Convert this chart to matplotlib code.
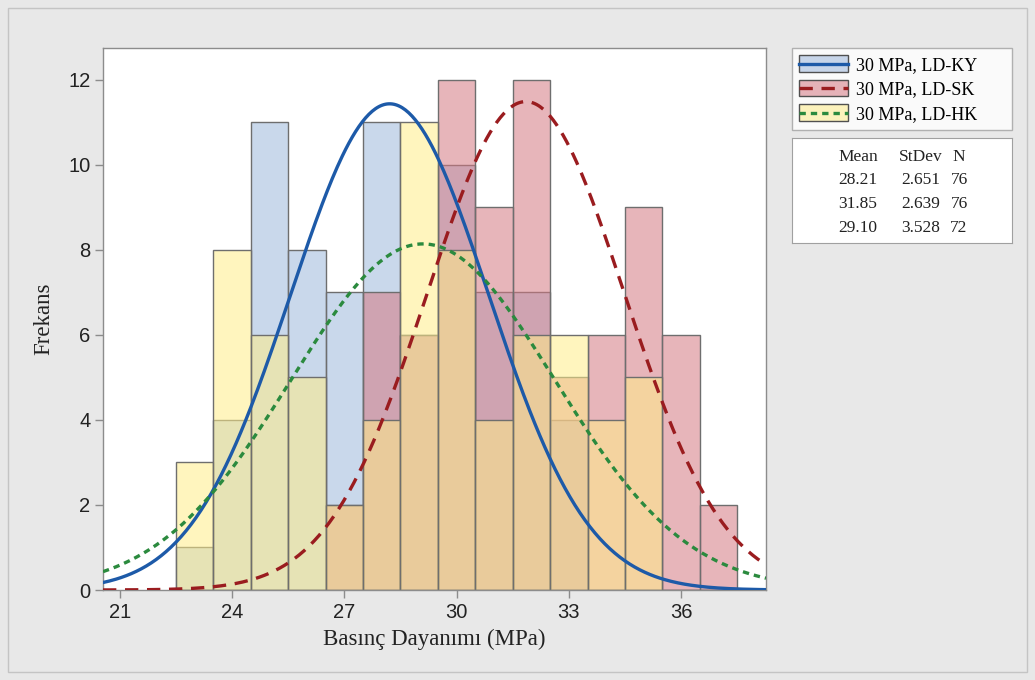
import numpy as np
import matplotlib
matplotlib.use("Agg")
import matplotlib.pyplot as plt
from matplotlib.patches import Patch, Rectangle
from matplotlib.lines import Line2D
from matplotlib.colors import to_rgba
from matplotlib.legend_handler import HandlerBase


# bin centres (MPa), bin width 1
bins = [23, 24, 25, 26, 27, 28, 29, 30, 31, 32, 33, 34, 35, 36, 37]

# frequencies per bin
freq_ky = [1, 4, 11, 8, 7, 11, 6, 10, 7, 7, 4, 0, 0, 0, 0]
freq_sk = [0, 0, 0, 0, 2, 7, 6, 12, 9, 12, 5, 6, 9, 6, 2]
freq_hk = [3, 8, 6, 5, 2, 4, 11, 8, 4, 6, 6, 4, 5, 0, 0]

series = ["30 MPa, LD-KY", "30 MPa, LD-SK", "30 MPa, LD-HK"]
means = [28.21, 31.85, 29.10]
stdevs = [2.651, 2.639, 3.528]
counts = [76, 76, 72]

fills = ["#9db8dc", "#d57882", "#ffed89"]
lines = ["#1d5aa8", "#9a1c1f", "#2b8a3e"]
styles = ["-", (0, (4.0, 2.6)), (0, (1.9, 1.5))]
FILL_ALPHA = 0.55
BG = "#e8e8e8"


class BoxLineHandler(HandlerBase):
    # filled box with the fit line drawn across its middle
    def create_artists(self, legend, orig_handle, xdescent, ydescent,
                       width, height, fontsize, trans):
        face, lc, ls = orig_handle
        r = Rectangle((-xdescent, -ydescent), width, height, facecolor=face,
                      edgecolor="#505050", lw=1, transform=trans)
        ln = Line2D([-xdescent, -xdescent + width],
                    [-ydescent + height / 2] * 2, color=lc, linestyle=ls,
                    linewidth=2.4, transform=trans)
        return [r, ln]


fig = plt.figure(figsize=(10.35, 6.8), dpi=100, facecolor=BG)
fig.patches.append(Rectangle((8 / 1035, 8 / 680), 1019 / 1035, 664 / 680,
                             transform=fig.transFigure, fill=False,
                             edgecolor="#c4c4c4", lw=1))

ax = fig.add_axes([103 / 1035, 90 / 680, 663 / 1035, 542 / 680])
ax.set_facecolor("white")

# overlapping histograms
for freq, col in zip([freq_ky, freq_sk, freq_hk], fills):
    ax.bar(bins, freq, width=1.0, facecolor=to_rgba(col, FILL_ALPHA),
           edgecolor="#6e6e6e", linewidth=1.0, zorder=2)

ax.set_xlim(20.55, 38.27)
ax.set_ylim(0, 12.75)

# fitted normal curves scaled to counts
xs = np.linspace(20.55, 38.27, 400)
for m, s, n, col, ls in zip(means, stdevs, counts, lines, styles):
    ys = n * 1.0 * np.exp(-0.5 * ((xs - m) / s) ** 2) / (s * np.sqrt(2 * np.pi))
    ax.plot(xs, ys, color=col, linestyle=ls, linewidth=2.4, zorder=3)

ax.set_xticks([21, 24, 27, 30, 33, 36])
ax.set_yticks([0, 2, 4, 6, 8, 10, 12])
ax.tick_params(direction="out", length=6, width=1, color="#8c8c8c",
               labelsize=14.5, labelcolor="#222222", pad=3)
for lab in ax.get_xticklabels() + ax.get_yticklabels():
    lab.set_family("Liberation Sans")
for sp in ax.spines.values():
    sp.set_color("#8c8c8c")
    sp.set_linewidth(1)

ax.set_xlabel("Basınç Dayanımı (MPa)", family="Liberation Serif",
              fontsize=16.5, color="#222222", labelpad=5)
ax.set_ylabel("Frekans", family="Liberation Serif", fontsize=16.5,
              color="#222222", labelpad=10)

# legend
handles = [(to_rgba(c, FILL_ALPHA), lc, ls) for c, lc, ls in zip(fills, lines, styles)]
leg = fig.legend(handles, series, handler_map={tuple: BoxLineHandler()},
                 loc="upper left", bbox_to_anchor=(792 / 1035, 1 - 48 / 680, 220 / 1035, 0.0),
                 mode="expand", borderaxespad=0, prop={"family": "Liberation Serif", "size": 13},
                 handlelength=2.7, handleheight=1.05, labelspacing=0.33, handletextpad=0.45,
                 borderpad=0.4, fancybox=False, frameon=True)
leg.get_frame().set_edgecolor("#a0a0a0")
leg.get_frame().set_linewidth(1)

# summary table of the fits
tab = fig.add_axes([792 / 1035, (680 - 243) / 680, 220 / 1035, 105 / 680])
tab.set_xticks([])
tab.set_yticks([])
for sp in tab.spines.values():
    sp.set_color("#a0a0a0")
tab.set_xlim(0, 220)
tab.set_ylim(105, 0)
tkw = dict(family="Liberation Serif", fontsize=12.5, color="#222222", va="center")
tab.text(66, 19, "Mean", ha="center", **tkw)
tab.text(129, 19, "StDev", ha="center", **tkw)
tab.text(167, 19, "N", ha="center", **tkw)
for i, (m, s, n) in enumerate(zip(means, stdevs, counts)):
    y = 42 + i * 24
    tab.text(66, y, f"{m:.2f}", ha="center", **tkw)
    tab.text(129, y, f"{s:.3f}", ha="center", **tkw)
    tab.text(167, y, f"{n}", ha="center", **tkw)

fig.savefig("out.png", dpi=100, facecolor=BG)
